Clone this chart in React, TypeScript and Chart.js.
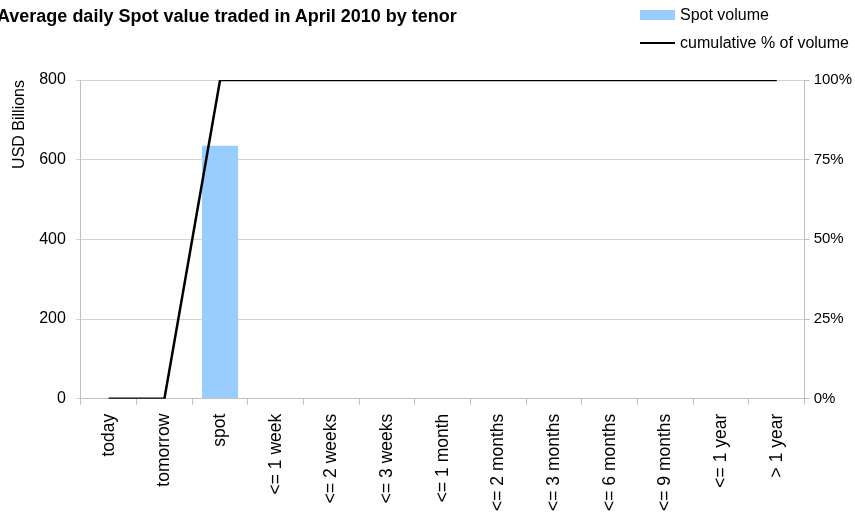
import React, { useEffect, useRef } from "react";
import { Chart, registerables } from "chart.js";

Chart.register(...registerables);

const categories = [
  "today",
  "tomorrow",
  "spot",
  "<= 1 week",
  "<= 2 weeks",
  "<= 3 weeks",
  "<= 1 month",
  "<= 2 months",
  "<= 3 months",
  "<= 6 months",
  "<= 9 months",
  "<= 1 year",
  "> 1 year",
];
const spotVolume = [0, 0, 635, 0, 0, 0, 0, 0, 0, 0, 0, 0, 0];
const cumulativePct = [0, 0, 100, 100, 100, 100, 100, 100, 100, 100, 100, 100, 100];
const leftTicks = [0, 200, 400, 600, 800];
const rightTicks = [0, 25, 50, 75, 100];

const FONT = "'Liberation Sans', Arial, sans-serif";

export default function App() {
  const ref = useRef<HTMLCanvasElement | null>(null);
  useEffect(() => {
    document.body.style.margin = "0";
    const ctx = ref.current!.getContext("2d")!;
    const chart = new Chart(ctx, {
      data: {
        labels: categories,
        datasets: [
          {
            type: "line",
            label: "cumulative % of volume",
            data: cumulativePct,
            yAxisID: "y1",
            borderColor: "#000000",
            borderWidth: 2.5,
            pointRadius: 0,
            tension: 0,
            order: 0,
          },
          {
            type: "bar",
            label: "Spot volume",
            data: spotVolume,
            yAxisID: "y",
            backgroundColor: "#99CCFF",
            borderWidth: 0,
            categoryPercentage: 1,
            barPercentage: 0.65,
            order: 1,
          },
        ],
      },
      options: {
        animation: false,
        responsive: false,
        layout: { padding: { top: 80, left: 3, right: -1, bottom: -1 } },
        plugins: {
          legend: { display: false },
          title: { display: false },
          tooltip: { enabled: false },
        },
        scales: {
          x: {
            offset: true,
            grid: {
              offset: true,
              drawOnChartArea: false,
              drawTicks: true,
              tickLength: 6,
              color: "#c0c0c0",
            },
            border: { color: "#c0c0c0" },
            ticks: {
              minRotation: 90,
              maxRotation: 90,
              autoSkip: false,
              color: "#000",
              font: { family: FONT, size: 17.5 },
              padding: 9,
            },
          },
          y: {
            position: "left",
            min: 0,
            max: 800,
            afterBuildTicks: (axis: any) => {
              axis.ticks = leftTicks.map((v) => ({ value: v }));
            },
            grid: { color: "#d4d4d4", tickLength: 5 },
            border: { color: "#c0c0c0" },
            ticks: {
              color: "#000",
              font: { family: FONT, size: 16 },
              padding: 10,
            },
            title: {
              display: true,
              text: "USD Billions",
              align: "end",
              color: "#000",
              font: { family: FONT, size: 16 },
              padding: { top: 7, bottom: 0 },
            },
          },
          y1: {
            position: "right",
            min: 0,
            max: 100,
            afterBuildTicks: (axis: any) => {
              axis.ticks = rightTicks.map((v) => ({ value: v }));
            },
            grid: { drawOnChartArea: false, color: "#c0c0c0", tickLength: 5 },
            border: { color: "#c0c0c0" },
            ticks: {
              color: "#000",
              font: { family: FONT, size: 15 },
              padding: 4,
              callback: (v: any) => v + "%",
            },
          },
        },
      },
    } as any);
    return () => chart.destroy();
  }, []);

  const textStyle: React.CSSProperties = {
    position: "absolute",
    fontFamily: FONT,
    fontSize: 16,
    color: "#000",
    whiteSpace: "nowrap",
    lineHeight: "18px",
  };

  return (
    <div style={{ position: "fixed", left: 0, top: 0, width: 855, height: 519, background: "#fff" }}>
      <canvas ref={ref} width={855} height={519} style={{ position: "absolute", left: 0, top: 0 }} />
      <div style={{ ...textStyle, left: -3, top: 6, fontSize: 18, lineHeight: "20px", fontWeight: "bold" }}>
        Average daily Spot value traded in April 2010 by tenor
      </div>
      <div style={{ position: "absolute", left: 640, top: 10, width: 35, height: 10, background: "#99CCFF" }} />
      <div style={{ ...textStyle, left: 680, top: 6 }}>Spot volume</div>
      <div style={{ position: "absolute", left: 640, top: 42, width: 35, height: 2, background: "#000" }} />
      <div style={{ ...textStyle, left: 680, top: 34 }}>cumulative % of volume</div>
    </div>
  );
}
